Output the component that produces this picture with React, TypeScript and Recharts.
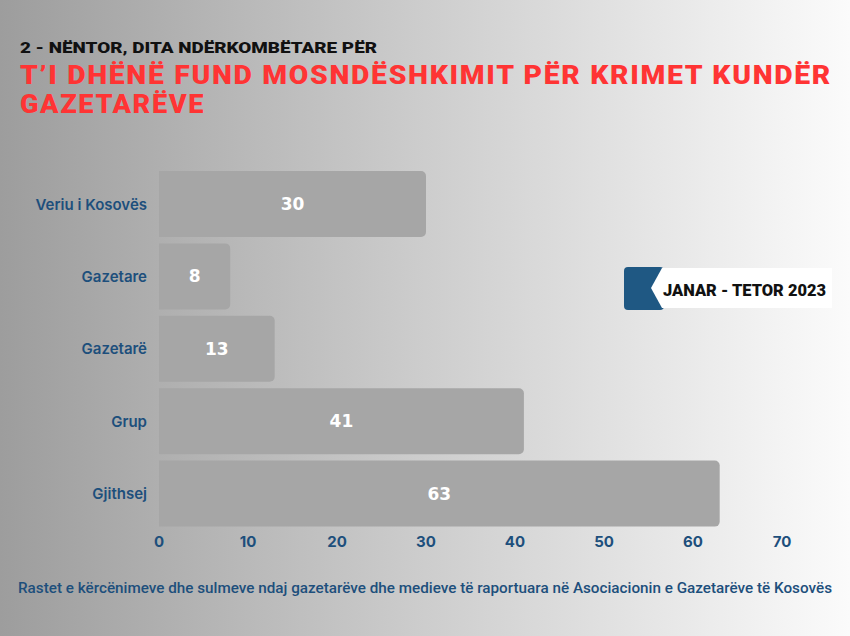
import { Bar, BarChart, LabelList, XAxis, YAxis } from "recharts";

const categories = ["Veriu i Kosovës", "Gazetare", "Gazetarë", "Grup", "Gjithsej"];
const cases = [30, 8, 13, 41, 63];
const xTicks = [0, 10, 20, 30, 40, 50, 60, 70];

const data = categories.map((name, i) => ({ name, value: cases[i] }));

const BLUE = "#1d4f7c";
const RED = "#ff3434";

export default function App() {
  return (
    <div
      style={{
        position: "absolute",
        left: 0,
        top: 0,
        width: 850,
        height: 636,
        overflow: "hidden",
        background: "linear-gradient(90deg, #9d9d9d 0%, #cdcdcd 50%, #fbfbfb 100%)",
      }}
    >
      <BarChart
        width={850}
        height={636}
        data={data}
        layout="vertical"
        margin={{ top: 168, right: 68, bottom: 76, left: 0 }}
        barCategoryGap={3}
      >
        <XAxis
          type="number"
          domain={[0, 70]}
          ticks={xTicks}
          axisLine={false}
          tickLine={false}
          height={30}
          tickMargin={0}
          tick={{ fill: BLUE, fontSize: 15, fontWeight: 700, fontFamily: "Inter" }}
        />
        <YAxis
          type="category"
          dataKey="name"
          width={159}
          axisLine={false}
          tickLine={false}
          tickMargin={6}
          tick={{ fill: BLUE, fontSize: 15, fontWeight: 600, fontFamily: "Inter" }}
        />
        <Bar dataKey="value" fill="#a6a6a6" radius={[0, 5, 5, 0]} isAnimationActive={false}>
          <LabelList
            dataKey="value"
            position="center"
            fill="#ffffff"
            style={{ fontSize: 17, fontWeight: 700, fontFamily: "DejaVu Sans" }}
          />
        </Bar>
      </BarChart>

      <svg
        width={850}
        height={636}
        style={{ position: "absolute", left: 0, top: 0, pointerEvents: "none" }}
      >
        <text
          x={20}
          y={53}
          textLength={357}
          lengthAdjust="spacingAndGlyphs"
          fontFamily="Roboto"
          fontWeight={900}
          fontSize={15}
          fill="#111"
        >
          2 - NËNTOR, DITA NDËRKOMBËTARE PËR
        </text>
        <text
          x={20}
          y={84}
          textLength={812}
          lengthAdjust="spacingAndGlyphs"
          fontFamily="Roboto"
          fontWeight={900}
          fontSize={25}
          letterSpacing={1.5}
          fill={RED}
        >
          T’I DHËNË FUND MOSNDËSHKIMIT PËR KRIMET KUNDËR
        </text>
        <text
          x={20}
          y={113}
          textLength={185}
          lengthAdjust="spacingAndGlyphs"
          fontFamily="Roboto"
          fontWeight={900}
          fontSize={25}
          letterSpacing={1.5}
          fill={RED}
        >
          GAZETARËVE
        </text>

        {/* period badge */}
        <rect x={624} y={267} width={40} height={43} rx={4} fill="#1f5883" />
        <polygon points="662,268 832,268 832,308 662,308 651,288" fill="#ffffff" />
        <text
          x={663}
          y={296}
          textLength={163}
          lengthAdjust="spacingAndGlyphs"
          fontFamily="Roboto"
          fontWeight={900}
          fontSize={16}
          fill="#111"
        >
          JANAR - TETOR 2023
        </text>

        <text
          x={18}
          y={593}
          textLength={814}
          lengthAdjust="spacingAndGlyphs"
          fontFamily="Roboto"
          fontWeight={500}
          fontSize={14}
          fill={BLUE}
        >
          Rastet e kërcënimeve dhe sulmeve ndaj gazetarëve dhe medieve të raportuara në Asociacionin e Gazetarëve të Kosovës
        </text>
      </svg>
    </div>
  );
}
